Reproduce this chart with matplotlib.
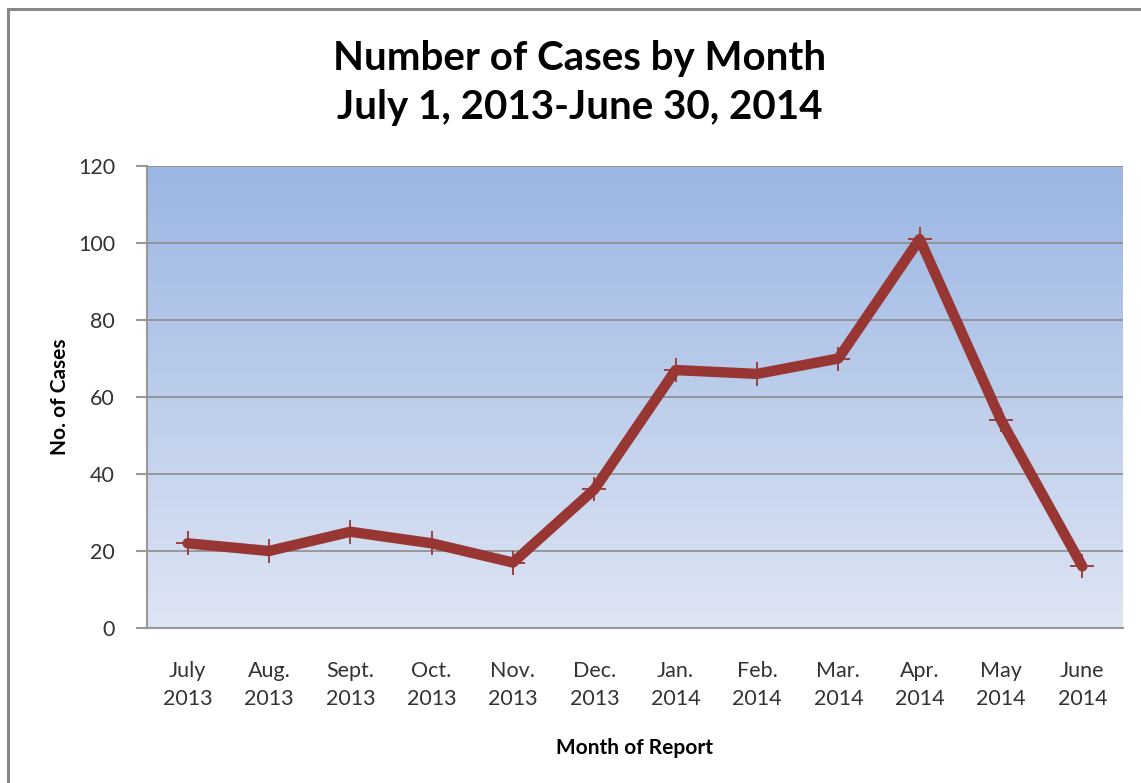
import matplotlib
matplotlib.use("Agg")
import matplotlib.pyplot as plt
import numpy as np
from matplotlib.patches import Rectangle
from matplotlib.colors import LinearSegmentedColormap

months = ["July\n2013", "Aug.\n2013", "Sept.\n2013", "Oct.\n2013", "Nov.\n2013", "Dec.\n2013",
          "Jan.\n2014", "Feb.\n2014", "Mar.\n2014", "Apr.\n2014", "May\n2014", "June\n2014"]
cases = [22, 20, 25, 22, 17, 36, 67, 66, 70, 101, 54, 16]
yticks = [0, 20, 40, 60, 80, 100, 120]

plt.rcParams['font.family'] = ['Lato', 'DejaVu Sans']

W, H = 1141, 783
fig = plt.figure(figsize=(W/100, H/100), dpi=100)
fig.patch.set_facecolor('white')

# outer chart frame
fig.patches.append(Rectangle((8/W, -0.05), 1.2, 1 - 9/H + 0.05, transform=fig.transFigure,
                             fill=False, edgecolor='#888888', linewidth=2.2, zorder=0))

left, right, top, bottom = 147, 1123, 166, 628
ax = fig.add_axes([left/W, 1 - bottom/H, (right-left)/W, (bottom-top)/H])

x = np.arange(len(months))
ax.set_xlim(-0.5, len(months) - 0.5)
ax.set_ylim(0, 120)

cmap = LinearSegmentedColormap.from_list('bg', ['#DEE5F4', '#9BB6E3'])
grad = np.linspace(0, 1, 256).reshape(-1, 1)
ax.imshow(grad, cmap=cmap, aspect='auto', extent=[-0.5, len(months) - 0.5, 0, 120],
          origin='lower', zorder=0)

ax.set_yticks(yticks)
ax.yaxis.grid(True, color='#8C8C8C', linewidth=1.2, zorder=1)
ax.set_axisbelow(True)

ax.plot(x, cases, color='#983634', linewidth=7.5, solid_joinstyle='round', solid_capstyle='round', zorder=3)
ax.plot(x, cases, linestyle='none', marker='+', markersize=17, markeredgewidth=1.3,
        color='#983634', zorder=4)

for s in ['top', 'right']:
    ax.spines[s].set_visible(False)
for s in ['left', 'bottom']:
    ax.spines[s].set_color('#999999')
    ax.spines[s].set_linewidth(1.5)

ax.set_xticks(x)
ax.set_xticklabels(months, fontsize=15.5, color='#333333', linespacing=1.45)
ax.tick_params(axis='x', length=0, pad=24)
ax.tick_params(axis='y', length=8, width=1.5, color='#999999', labelsize=15.5, labelcolor='#333333', pad=15)

ax.set_ylabel('No. of Cases', fontsize=15, fontweight='bold', labelpad=6)
ax.set_xlabel('Month of Report', fontsize=15, fontweight='bold', labelpad=21)

fig.text((333+826)/2/W, 1 - 83/H, 'Number of Cases by Month\nJuly 1, 2013-June 30, 2014',
         ha='center', va='center', fontsize=29, fontweight='bold', linespacing=1.4)

fig.savefig('out.png', dpi=100, facecolor='white')
